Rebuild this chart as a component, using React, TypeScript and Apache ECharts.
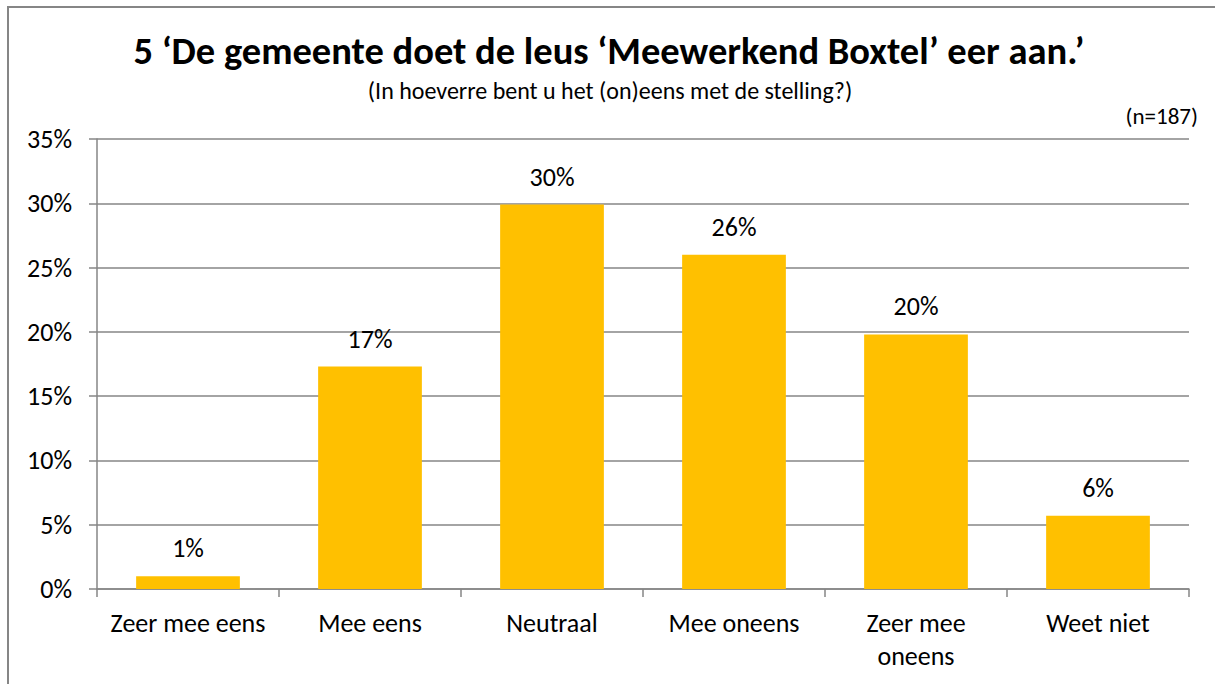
import React, { useEffect, useRef } from "react";
import * as echarts from "echarts";

const categories = ["Zeer mee eens", "Mee eens", "Neutraal", "Mee oneens", "Zeer mee\noneens", "Weet niet"];
const values = [1.0, 17.3, 29.9, 26.0, 19.8, 5.7];
const yTicks = [0, 5, 10, 15, 20, 25, 30, 35];
const titleText = "5 \u2018De gemeente doet de leus \u2018Meewerkend Boxtel\u2019 eer aan.\u2019";
const subtitleText = "(In hoeverre bent u het (on)eens met de stelling?)";
const nText = "(n=187)";

const FONT = "Carlito, Lato, 'Open Sans', sans-serif";

export default function App() {
  const ref = useRef<HTMLDivElement>(null);
  useEffect(() => {
    if (!ref.current) return;
    const chart = echarts.init(ref.current, null, { renderer: "svg" });
    chart.setOption({
      animation: false,
      backgroundColor: "#ffffff",
      textStyle: { fontFamily: FONT },
      grid: { left: 97, right: 26, top: 139, bottom: 95, containLabel: false },
      graphic: [
        {
          type: "rect",
          shape: { x: 8, y: 7, width: 1230, height: 700 },
          style: { fill: "none", stroke: "#868686", lineWidth: 2 },
          silent: true,
        },
        {
          type: "text",
          x: 609,
          y: 50,
          style: {
            text: titleText,
            font: `bold 38.5px ${FONT}`,
            fill: "#000000",
            textAlign: "center",
            textVerticalAlign: "middle",
          },
        },
        {
          type: "text",
          x: 610,
          y: 90,
          style: {
            text: subtitleText,
            font: `24px ${FONT}`,
            fill: "#000000",
            textAlign: "center",
            textVerticalAlign: "middle",
          },
        },
        {
          type: "text",
          x: 1198,
          y: 116,
          style: {
            text: nText,
            font: `23px ${FONT}`,
            fill: "#000000",
            textAlign: "right",
            textVerticalAlign: "middle",
          },
        },
      ],
      xAxis: {
        type: "category",
        data: categories,
        axisLine: { show: true, lineStyle: { color: "#868686", width: 1.5 } },
        axisTick: { show: true, alignWithLabel: false, length: 8, lineStyle: { color: "#868686", width: 1.5 } },
        axisLabel: {
          color: "#000000",
          fontSize: 26,
          fontFamily: FONT,
          lineHeight: 33,
          margin: 17,
          interval: 0,
        },
      },
      yAxis: {
        type: "value",
        min: 0,
        max: 35,
        interval: 5,
        axisLine: { show: true, lineStyle: { color: "#868686", width: 1.5 } },
        axisTick: { show: true, length: 8, lineStyle: { color: "#868686", width: 1.5 } },
        splitLine: { show: true, lineStyle: { color: "#868686", width: 1.5 } },
        axisLabel: {
          color: "#000000",
          fontSize: 26,
          fontFamily: FONT,
          margin: 25,
          formatter: (v: number) => (yTicks.includes(v) ? `${v}%` : ""),
        },
      },
      series: [
        {
          type: "bar",
          data: values,
          barWidth: "57%",
          itemStyle: { color: "#FFC000" },
          label: {
            show: true,
            position: "top",
            distance: 15,
            color: "#000000",
            fontSize: 26,
            fontFamily: FONT,
            formatter: (p: any) => `${Math.round(p.value)}%`,
          },
        },
      ],
    });
    return () => chart.dispose();
  }, []);
  return (
    <div
      ref={ref}
      style={{ position: "fixed", left: 0, top: 0, width: 1215, height: 684, background: "#fff" }}
    />
  );
}
